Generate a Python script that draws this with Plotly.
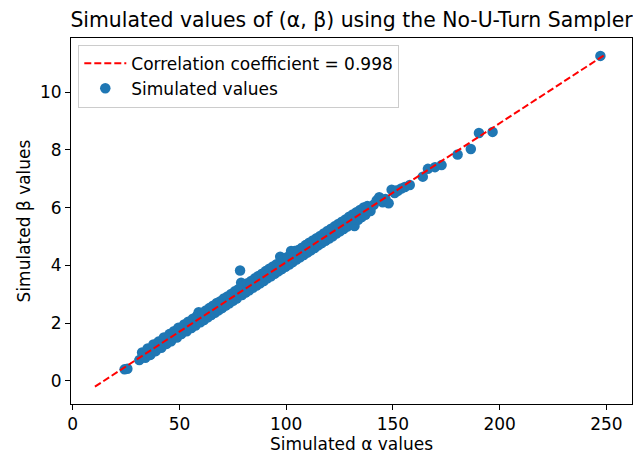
import plotly.graph_objects as go

alpha = [24.3, 25.6, 31.2, 32.5, 34.0, 35.1, 36.4, 37.8, 38.9, 40.2, 41.5, 42.7, 44.0, 45.3, 46.1,
         47.4, 48.8, 49.5, 50.9, 52.2, 53.4, 54.1, 55.6, 56.3, 57.5, 58.2, 59.0, 59.8, 60.7, 61.5,
         62.4, 63.3, 64.0, 64.9, 65.7, 66.6, 67.5, 68.3, 69.2, 70.0, 70.8, 71.7, 72.5, 73.4, 74.2,
         75.1, 75.9, 76.8, 77.6, 78.4, 78.9, 79.3, 80.2, 81.0, 81.9, 82.7, 83.6, 84.4, 85.3, 86.1,
         87.0, 87.8, 88.7, 89.5, 90.4, 91.2, 92.1, 92.9, 93.8, 94.6, 95.5, 96.3, 97.2, 98.0, 98.9,
         99.7, 100.6, 101.4, 102.3, 103.1, 104.0, 104.8, 105.7, 106.5, 107.4, 108.2, 109.1, 109.9,
         110.8, 111.6, 112.5, 113.3, 114.2, 115.0, 115.9, 116.7, 117.6, 118.4, 119.3, 120.1, 121.0,
         121.8, 122.7, 123.5, 124.4, 125.2, 126.1, 126.9, 127.8, 128.6, 129.5, 130.3, 131.2, 132.0,
         132.9, 133.7, 134.6, 135.4, 136.3, 137.1, 138.0, 139.5, 141.0, 142.4, 143.6, 145.2, 146.5,
         148.0, 149.4, 150.8, 152.3, 153.9, 155.6, 157.9, 164.0, 166.4, 169.7, 172.8, 180.3, 186.5,
         190.3, 196.7, 247.2,
         40.8, 48.1, 55.0, 62.0, 69.6, 76.3, 83.2, 90.0, 96.8, 103.6, 110.4, 117.2, 124.0, 130.8,
         137.6, 144.5, 151.5]
beta = [0.40, 0.42, 0.72, 0.98, 0.80, 1.12, 0.90, 1.26, 1.03, 1.36, 1.15, 1.50, 1.28, 1.62, 1.37,
        1.72, 1.50, 1.84, 1.62, 1.95, 1.72, 2.05, 1.83, 2.15, 1.92, 2.25, 2.38, 2.03, 2.36, 2.11,
        2.44, 2.20, 2.52, 2.28, 2.60, 2.36, 2.70, 2.44, 2.76, 2.52, 2.85, 2.61, 2.92, 2.69, 3.01,
        2.77, 3.10, 2.85, 3.17, 3.82, 3.40, 2.97, 3.30, 3.06, 3.38, 3.14, 3.46, 3.22, 3.55, 3.30,
        3.63, 3.38, 3.71, 3.46, 3.80, 3.55, 3.88, 3.62, 3.96, 3.71, 4.04, 3.79, 4.30, 3.87, 4.20,
        3.95, 4.29, 4.03, 4.50, 4.11, 4.50, 4.20, 4.53, 4.28, 4.61, 4.36, 4.70, 4.44,
        4.78, 4.52, 4.86, 4.60, 4.94, 4.69, 5.02, 4.77, 5.10, 4.85, 5.19, 4.93, 5.27,
        5.01, 5.35, 5.10, 5.43, 5.18, 5.51, 5.26, 5.59, 5.34, 5.68, 5.42, 5.76, 5.36,
        5.84, 5.58, 5.92, 5.67, 6.00, 5.75, 6.05, 5.88, 6.10, 6.25, 6.36, 6.18, 6.30,
        6.15, 6.62, 6.50, 6.58, 6.66, 6.71, 6.78, 7.07, 7.34, 7.40, 7.47, 7.84, 8.03,
        8.58, 8.62, 11.25,
        1.26, 1.62, 1.95, 2.28, 2.65, 2.97, 3.30, 3.63, 3.96, 4.28, 4.61, 4.94, 5.26, 5.59,
        5.92, 6.25, 6.59]

line_x = [10.4, 249.5]
line_y = [-0.20, 11.30]
corr_label = "Correlation coefficient = 0.998"

x_ticks = [0, 50, 100, 150, 200, 250]
y_ticks = [0, 2, 4, 6, 8, 10]

FONT = "DejaVu Sans"

fig = go.Figure()
fig.add_trace(go.Scatter(
    x=alpha, y=beta, mode="markers", name="Simulated values",
    marker=dict(color="#1f77b4", size=10.5, line=dict(width=0)),
    legendrank=2,
))
fig.add_trace(go.Scatter(
    x=line_x, y=line_y, mode="lines", name=corr_label,
    line=dict(color="red", width=2, dash="7px,3px"),
    legendrank=1,
))

axis_common = dict(
    showgrid=False, zeroline=False, showline=True, linecolor="black", linewidth=1,
    mirror=True, ticks="outside", ticklen=5, tickwidth=1, tickcolor="black",
    tickfont=dict(family=FONT, size=17, color="black"),
)

fig.update_layout(
    width=633, height=457,
    margin=dict(l=71, r=1, t=38, b=53),
    paper_bgcolor="white", plot_bgcolor="white",
    font=dict(family=FONT, size=17, color="black"),
    title=dict(text="Simulated values of (α, β) using the No-U-Turn Sampler",
               x=0.5, xref="paper", xanchor="center", y=0.957, yanchor="middle",
               font=dict(family=FONT, size=20.4, color="black")),
    xaxis=dict(range=[-0.8, 262], tickvals=x_ticks,
               title=dict(text="Simulated α values", font=dict(family=FONT, size=17), standoff=3),
               **axis_common),
    yaxis=dict(range=[-0.8, 11.87], tickvals=y_ticks,
               title=dict(text="Simulated β values", font=dict(family=FONT, size=17), standoff=5),
               **axis_common),
    legend=dict(x=0.013, y=0.982, xanchor="left", yanchor="top",
                bgcolor="rgba(255,255,255,0.8)", bordercolor="#cccccc", borderwidth=1,
                font=dict(family=FONT, size=17, color="black"), tracegroupgap=0,
                itemwidth=42),
    showlegend=True,
)

fig.write_html("out.html")
